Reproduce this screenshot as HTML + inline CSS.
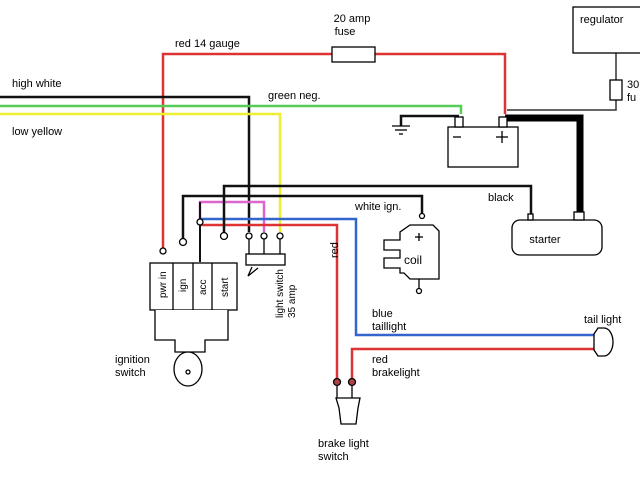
<!DOCTYPE html>
<html><head><style>html,body{margin:0;padding:0;background:#fff}svg{display:block}</style></head>
<body>
<svg width="640" height="480" viewBox="0 0 640 480" xmlns="http://www.w3.org/2000/svg" font-family="Liberation Sans, sans-serif" font-size="11" fill="#000">
<g fill="none" stroke-width="2.5">
<!-- red main -->
<polyline points="163,248 163,54 332,54" stroke="#d33"/>
<polyline points="375,54 505,54 505,114" stroke="#d33"/>
<!-- high white -->
<polyline points="0,97 249,97 249,232" stroke="#111"/>
<!-- green -->
<polyline points="0,106 461,106 461,114" stroke="#5c5"/>
<!-- yellow -->
<polyline points="0,114 280,114 280,232" stroke="#ee3"/>
<!-- ground wire -->
<polyline points="401,126 401,116 459,116" stroke="#111"/>
<!-- pink loop -->
<polyline points="200,222 200,202 264,202 264,232" stroke="#d6c"/>
<!-- blue -->
<polyline points="200,219 356,219 356,335 598,335" stroke="#36c"/>
<!-- red to brake -->
<polyline points="200,225 337,225 337,378" stroke="#d33"/>
<polyline points="352,378 352,349 598,349" stroke="#d33"/>
<!-- black lines -->
<polyline points="224,232 224,186 531,186 531,218" stroke="#111"/>
<polyline points="183,239 183,196 422,196 422,213" stroke="#111"/>
<polyline points="200,202 200,262" stroke="#111" stroke-width="2"/>
<!-- regulator line -->
<polyline points="616,53 616,80" stroke="#333" stroke-width="1.5"/>
<polyline points="616,100 616,110 507,110" stroke="#333" stroke-width="1.5"/>
<polyline points="505,118 580,118 580,212" stroke="#000" stroke-width="7"/>
</g>
<g fill="#fff" stroke="#000" stroke-width="1.3">
<rect x="332" y="47" width="43" height="15"/>
<rect x="573" y="7" width="70" height="46"/>
<rect x="610" y="80" width="12" height="20"/>
<rect x="448" y="127" width="70" height="40"/>
<rect x="455" y="117" width="8" height="10"/>
<rect x="499" y="117" width="8" height="10"/>
<rect x="512" y="220" width="90" height="35" rx="8"/>
<rect x="528" y="214" width="5" height="6"/>
<rect x="574" y="212" width="10" height="8"/>
<!-- ignition switch -->
<rect x="150" y="263" width="87" height="47"/>
<polyline points="155,310 155,340 175,340 175,352 205,352 205,340 228,340 228,310"/>
<ellipse cx="188" cy="369" rx="14" ry="17"/>
<circle cx="188" cy="372" r="2"/>
<!-- light switch -->
<rect x="246" y="254" width="39" height="11"/>
<!-- coil -->
<path d="M410,225 L433,225 L439,231 L439,279 L410,279 L404,273 L400,273 L400,268 L384,268 L384,258 L400,258 L400,250 L384,250 L384,240 L400,240 L400,232 Z"/>
<circle cx="419" cy="291" r="2.5"/>
<circle cx="422" cy="216" r="2.5"/>
<!-- brake switch -->
<path d="M336,398 L360,398 L358,408 L356,424 L341,424 L339,408 Z"/>
<!-- tail light -->
<path d="M604,328 A9,14 0 0 1 604,356 L598,356 L594,350 L594,334 L598,328 Z"/>
<circle cx="163" cy="251" r="3"/><circle cx="183" cy="242" r="3.5"/>
<circle cx="224" cy="236" r="3.5"/><circle cx="249" cy="236" r="3"/>
<circle cx="264" cy="236" r="3"/><circle cx="280" cy="236" r="3"/>
<circle cx="200" cy="222" r="3"/>
<circle cx="337" cy="382" r="3.5" fill="#a44"/><circle cx="352" cy="382" r="3.5" fill="#a44"/>
</g>
<g stroke="#000" stroke-width="1.3" fill="none">
<line x1="173" y1="263" x2="173" y2="310"/><line x1="193" y1="263" x2="193" y2="310"/><line x1="212" y1="263" x2="212" y2="310"/>
<line x1="337" y1="386" x2="337" y2="398"/><line x1="352" y1="386" x2="352" y2="398"/>
<line x1="249" y1="239" x2="249" y2="254"/><line x1="264" y1="239" x2="264" y2="254"/><line x1="280" y1="239" x2="280" y2="254"/>
<path d="M252,267 L248,276 L258,268"/>
<line x1="392" y1="126" x2="410" y2="126"/><line x1="395" y1="130" x2="407" y2="130"/><line x1="399" y1="134" x2="403" y2="134"/>
<line x1="453" y1="137" x2="461" y2="137"/><line x1="496" y1="137" x2="508" y2="137"/><line x1="502" y1="131" x2="502" y2="143"/>
<line x1="415" y1="237" x2="423" y2="237"/><line x1="419" y1="233" x2="419" y2="241"/>
<line x1="419" y1="279" x2="419" y2="289"/>
</g>
<text x="352" y="22" text-anchor="middle">20 amp</text>
<text x="345" y="35" text-anchor="middle">fuse</text>
<text x="580" y="23">regulator</text>
<text x="627" y="88">30</text><text x="627" y="101">fu</text>
<text x="175" y="47">red 14 gauge</text>
<text x="12" y="87">high white</text>
<text x="268" y="99">green neg.</text>
<text x="12" y="135">low yellow</text>
<text x="355" y="210">white ign.</text>
<text x="488" y="201">black</text>
<text x="545" y="243" text-anchor="middle">starter</text>
<text x="404" y="264" font-size="12">coil</text>
<text x="372" y="317">blue</text><text x="372" y="330">taillight</text>
<text x="584" y="323">tail light</text>
<text x="372" y="363">red</text><text x="372" y="376">brakelight</text>
<text x="318" y="447">brake light</text><text x="318" y="460">switch</text>
<text x="115" y="363">ignition</text><text x="115" y="376">switch</text>
<text transform="translate(338,258) rotate(-90)">red</text>
<text transform="translate(283,318) rotate(-90)" font-size="10">light switch</text>
<text transform="translate(295,318) rotate(-90)" font-size="10">35 amp</text>
<text transform="translate(166,298) rotate(-90)" font-size="10">pwr in</text>
<text transform="translate(186,292) rotate(-90)" font-size="10">ign</text>
<text transform="translate(206,295) rotate(-90)" font-size="10">acc</text>
<text transform="translate(228,297) rotate(-90)" font-size="10">start</text>
</svg>
</body></html>
